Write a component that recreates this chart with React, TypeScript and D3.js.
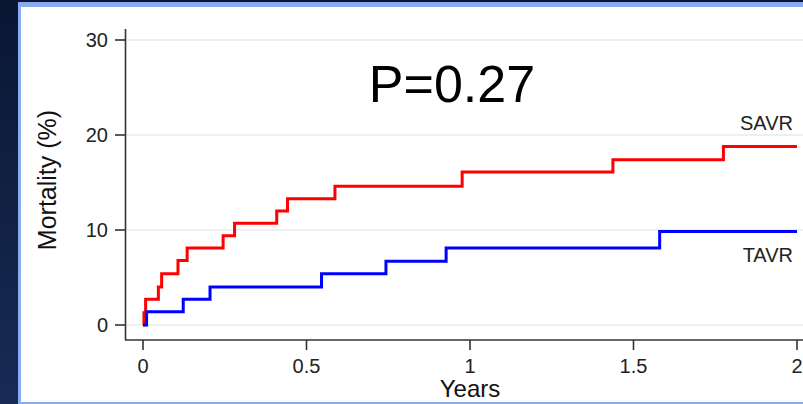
import React from 'react';
import * as d3 from 'd3';

// Kaplan-Meier steps: time (years) -> mortality (%) after the event
const savrTimes = [0, 0.003, 0.008, 0.047, 0.057, 0.107, 0.135, 0.245, 0.28, 0.409, 0.442, 0.587, 0.976, 1.437, 1.775, 2];
const savrMortality = [0, 1.3, 2.7, 4.0, 5.4, 6.8, 8.1, 9.4, 10.7, 12.0, 13.3, 14.6, 16.1, 17.4, 18.8, 18.8];
const tavrTimes = [0, 0.011, 0.123, 0.205, 0.546, 0.743, 0.927, 1.58, 2];
const tavrMortality = [0, 1.4, 2.7, 4.0, 5.4, 6.7, 8.1, 9.85, 9.85];

const xTicks = [0, 0.5, 1, 1.5, 2];
const yTicks = [0, 10, 20, 30];

const W = 803;
const H = 404;
const font = '"Liberation Sans", Arial, sans-serif';

const App = () => {
  const x = d3.scaleLinear().domain([0, 2]).range([143, 797]);
  const y = d3.scaleLinear().domain([0, 30]).range([325, 40]);

  const line = d3
    .line<[number, number]>()
    .x(d => x(d[0]))
    .y(d => y(d[1]))
    .curve(d3.curveStepAfter);

  const savr = line(savrTimes.map((t, i) => [t, savrMortality[i]]));
  const tavr = line(tavrTimes.map((t, i) => [t, tavrMortality[i]]));

  const axisColor = '#333';

  return (
    <svg
      width={W}
      height={H}
      style={{ position: 'absolute', left: 0, top: 0, fontFamily: font }}
    >
      <defs>
        <linearGradient id="bg" x1="0" y1="0" x2="0" y2="1">
          <stop offset="0" stopColor="#0a1733" />
          <stop offset="1" stopColor="#172b55" />
        </linearGradient>
      </defs>
      <rect width={W} height={H} fill="url(#bg)" />
      <rect x={18} y={2} width={W - 18} height={H - 2} fill="#8aaaf2" />
      <rect x={21} y={7} width={W - 21} height={H - 9} fill="#fff" />

      {/* grid */}
      {yTicks.map(t => (
        <line
          key={'g' + t}
          x1={127}
          x2={W}
          y1={y(t)}
          y2={y(t)}
          stroke="#e4eded"
          strokeWidth={1.5}
        />
      ))}

      {/* y axis */}
      <line x1={125.5} x2={125.5} y1={29} y2={340} stroke={axisColor} strokeWidth={1.6} />
      {yTicks.map(t => (
        <g key={'y' + t}>
          <line x1={115} x2={125} y1={y(t)} y2={y(t)} stroke={axisColor} strokeWidth={1.6} />
          <text
            x={108}
            y={y(t)}
            dy="0.36em"
            textAnchor="end"
            fontSize={20}
            fill="#222"
          >
            {t}
          </text>
        </g>
      ))}
      <text
        transform="translate(56,180) rotate(-90)"
        textAnchor="middle"
        fontSize={25}
        fill="#111"
      >
        Mortality (%)
      </text>

      {/* x axis */}
      <line x1={125} x2={W} y1={340} y2={340} stroke={axisColor} strokeWidth={1.6} />
      {xTicks.map(t => (
        <g key={'x' + t}>
          <line x1={x(t)} x2={x(t)} y1={340} y2={350} stroke={axisColor} strokeWidth={1.6} />
          <text x={x(t)} y={373} textAnchor="middle" fontSize={20} fill="#222">
            {t}
          </text>
        </g>
      ))}
      <text x={470} y={397} textAnchor="middle" fontSize={24} fill="#111">
        Years
      </text>

      {/* curves */}
      <path d={savr ?? ''} fill="none" stroke="#ff0000" strokeWidth={3} />
      <path d={tavr ?? ''} fill="none" stroke="#0000ff" strokeWidth={3} />

      <text x={793} y={130} textAnchor="end" fontSize={20} fill="#222">
        SAVR
      </text>
      <text x={793} y={262} textAnchor="end" fontSize={20} fill="#222">
        TAVR
      </text>

      <text x={452} y={102} textAnchor="middle" fontSize={52} fill="#000">
        P=0.27
      </text>
    </svg>
  );
};

export default App;
